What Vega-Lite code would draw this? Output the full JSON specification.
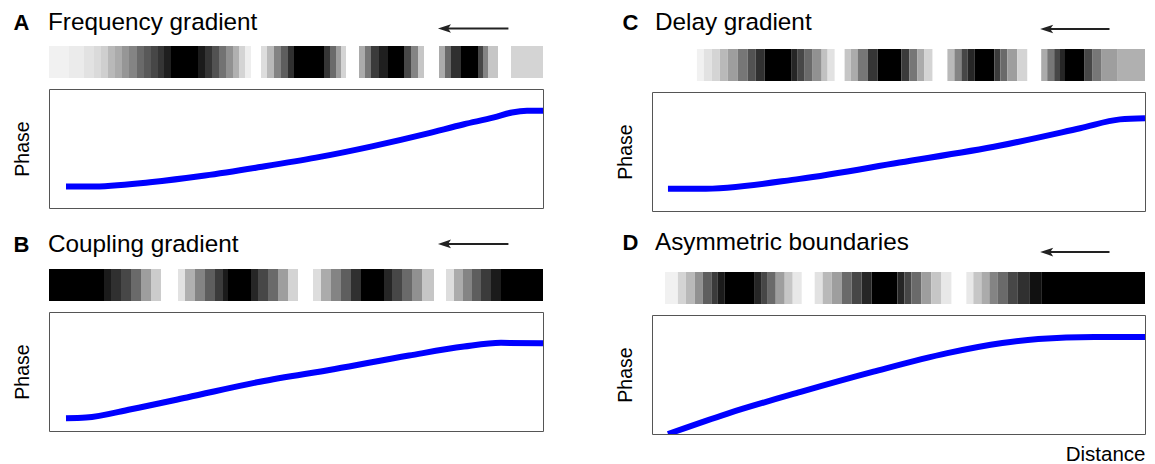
{
  "$schema": "https://vega.github.io/schema/vega-lite/v6.json",
  "padding": {"left": 11, "top": 10, "right": 8, "bottom": 4},
  "background": "white",
  "config": {"view": {"stroke": null}, "font": "Liberation Sans", "axis": {"grid": false}},
  "datasets": {
    "stripA": [
      {"x0":0,"x1":20,"v":0.05},{"x0":20,"x1":35,"v":0.07},{"x0":35,"x1":45,"v":0.1},{"x0":45,"x1":52,"v":0.13},{"x0":52,"x1":59,"v":0.17},{"x0":59,"x1":66,"v":0.25},{"x0":66,"x1":73,"v":0.3},{"x0":73,"x1":80,"v":0.38},{"x0":80,"x1":88,"v":0.45},{"x0":88,"x1":95,"v":0.55},{"x0":95,"x1":102,"v":0.62},{"x0":102,"x1":109,"v":0.7},{"x0":109,"x1":115,"v":0.78},{"x0":115,"x1":122,"v":0.88},{"x0":122,"x1":149,"v":1},{"x0":149,"x1":156,"v":0.9},{"x0":156,"x1":163,"v":0.78},{"x0":163,"x1":170,"v":0.65},{"x0":170,"x1":177,"v":0.52},{"x0":177,"x1":184,"v":0.4},{"x0":184,"x1":190,"v":0.28},{"x0":190,"x1":196,"v":0.15},{"x0":196,"x1":202,"v":0.06},
      {"x0":212,"x1":218,"v":0.12},{"x0":218,"x1":225,"v":0.25},{"x0":225,"x1":232,"v":0.45},{"x0":232,"x1":239,"v":0.6},{"x0":239,"x1":245,"v":0.8},{"x0":245,"x1":275,"v":1},{"x0":275,"x1":281,"v":0.78},{"x0":281,"x1":287,"v":0.55},{"x0":287,"x1":292,"v":0.35},{"x0":292,"x1":297,"v":0.15},
      {"x0":310,"x1":316,"v":0.3},{"x0":316,"x1":322,"v":0.5},{"x0":322,"x1":330,"v":0.75},{"x0":330,"x1":339,"v":0.88},{"x0":339,"x1":355,"v":1},{"x0":355,"x1":362,"v":0.7},{"x0":362,"x1":369,"v":0.45},{"x0":369,"x1":375,"v":0.2},
      {"x0":390,"x1":396,"v":0.3},{"x0":396,"x1":402,"v":0.55},{"x0":402,"x1":412,"v":0.8},{"x0":412,"x1":429,"v":1},{"x0":429,"x1":434,"v":0.7},{"x0":434,"x1":439,"v":0.45},{"x0":439,"x1":449,"v":0.2},
      {"x0":462,"x1":494,"v":0.15}
    ],
    "stripB": [
      {"x0":0,"x1":55,"v":1},{"x0":55,"x1":62,"v":0.9},{"x0":62,"x1":72,"v":0.8},{"x0":72,"x1":82,"v":0.7},{"x0":82,"x1":92,"v":0.55},{"x0":92,"x1":102,"v":0.35},{"x0":102,"x1":112,"v":0.18},
      {"x0":129,"x1":136,"v":0.1},{"x0":136,"x1":146,"v":0.28},{"x0":146,"x1":156,"v":0.45},{"x0":156,"x1":166,"v":0.6},{"x0":166,"x1":174,"v":0.75},{"x0":174,"x1":179,"v":0.9},{"x0":179,"x1":202,"v":1},{"x0":202,"x1":209,"v":0.85},{"x0":209,"x1":219,"v":0.7},{"x0":219,"x1":229,"v":0.55},{"x0":229,"x1":239,"v":0.35},{"x0":239,"x1":249,"v":0.15},
      {"x0":264,"x1":272,"v":0.12},{"x0":272,"x1":282,"v":0.3},{"x0":282,"x1":292,"v":0.45},{"x0":292,"x1":302,"v":0.6},{"x0":302,"x1":312,"v":0.8},{"x0":312,"x1":335,"v":1},{"x0":335,"x1":343,"v":0.85},{"x0":343,"x1":353,"v":0.7},{"x0":353,"x1":363,"v":0.55},{"x0":363,"x1":373,"v":0.4},{"x0":373,"x1":385,"v":0.2},
      {"x0":397,"x1":405,"v":0.12},{"x0":405,"x1":414,"v":0.3},{"x0":414,"x1":423,"v":0.45},{"x0":423,"x1":432,"v":0.6},{"x0":432,"x1":442,"v":0.75},{"x0":442,"x1":452,"v":0.9},{"x0":452,"x1":494,"v":1}
    ],
    "stripC": [
      {"x0":45,"x1":52,"v":0.05},{"x0":52,"x1":60,"v":0.1},{"x0":60,"x1":68,"v":0.15},{"x0":68,"x1":76,"v":0.25},{"x0":76,"x1":86,"v":0.35},{"x0":86,"x1":96,"v":0.5},{"x0":96,"x1":104,"v":0.65},{"x0":104,"x1":113,"v":0.8},{"x0":113,"x1":140,"v":1},{"x0":140,"x1":146,"v":0.85},{"x0":146,"x1":153,"v":0.7},{"x0":153,"x1":161,"v":0.55},{"x0":161,"x1":170,"v":0.4},{"x0":170,"x1":176,"v":0.22},{"x0":176,"x1":183,"v":0.1},
      {"x0":193,"x1":199,"v":0.2},{"x0":199,"x1":206,"v":0.3},{"x0":206,"x1":216,"v":0.5},{"x0":216,"x1":226,"v":0.78},{"x0":226,"x1":250,"v":1},{"x0":250,"x1":258,"v":0.75},{"x0":258,"x1":266,"v":0.5},{"x0":266,"x1":273,"v":0.3},{"x0":273,"x1":281,"v":0.15},
      {"x0":296,"x1":303,"v":0.25},{"x0":303,"x1":310,"v":0.45},{"x0":310,"x1":316,"v":0.7},{"x0":316,"x1":323,"v":0.85},{"x0":323,"x1":343,"v":1},{"x0":343,"x1":349,"v":0.75},{"x0":349,"x1":356,"v":0.55},{"x0":356,"x1":366,"v":0.35},{"x0":366,"x1":376,"v":0.15},
      {"x0":390,"x1":396,"v":0.3},{"x0":396,"x1":403,"v":0.5},{"x0":403,"x1":408,"v":0.7},{"x0":408,"x1":413,"v":0.85},{"x0":413,"x1":433,"v":1},{"x0":433,"x1":441,"v":0.7},{"x0":441,"x1":450,"v":0.5},{"x0":450,"x1":466,"v":0.35},{"x0":466,"x1":494,"v":0.28}
    ],
    "stripD": [
      {"x0":13,"x1":26,"v":0.05},{"x0":26,"x1":34,"v":0.15},{"x0":34,"x1":43,"v":0.25},{"x0":43,"x1":51,"v":0.4},{"x0":51,"x1":60,"v":0.6},{"x0":60,"x1":66,"v":0.75},{"x0":66,"x1":73,"v":0.9},{"x0":73,"x1":103,"v":1},{"x0":103,"x1":110,"v":0.85},{"x0":110,"x1":116,"v":0.7},{"x0":116,"x1":124,"v":0.55},{"x0":124,"x1":133,"v":0.35},{"x0":133,"x1":141,"v":0.2},{"x0":141,"x1":150,"v":0.08},
      {"x0":163,"x1":171,"v":0.1},{"x0":171,"x1":180,"v":0.25},{"x0":180,"x1":190,"v":0.35},{"x0":190,"x1":200,"v":0.55},{"x0":200,"x1":210,"v":0.7},{"x0":210,"x1":220,"v":0.85},{"x0":220,"x1":246,"v":1},{"x0":246,"x1":253,"v":0.85},{"x0":253,"x1":260,"v":0.7},{"x0":260,"x1":270,"v":0.55},{"x0":270,"x1":280,"v":0.35},{"x0":280,"x1":290,"v":0.2},{"x0":290,"x1":300,"v":0.08},
      {"x0":315,"x1":322,"v":0.08},{"x0":322,"x1":330,"v":0.2},{"x0":330,"x1":338,"v":0.3},{"x0":338,"x1":346,"v":0.45},{"x0":346,"x1":356,"v":0.55},{"x0":356,"x1":366,"v":0.7},{"x0":366,"x1":378,"v":0.8},{"x0":378,"x1":390,"v":0.95},{"x0":390,"x1":494,"v":1}
    ],
    "lineA": [
      {"d":17,"phase":0.18},{"d":41,"phase":0.18},{"d":101,"phase":0.217},{"d":156,"phase":0.273},{"d":211,"phase":0.344},{"d":267,"phase":0.423},{"d":323,"phase":0.518},{"d":378,"phase":0.625},{"d":415,"phase":0.704},{"d":445,"phase":0.761},{"d":463,"phase":0.803},{"d":478,"phase":0.817},{"d":494,"phase":0.817}
    ],
    "lineB": [
      {"d":17,"phase":0.107},{"d":37,"phase":0.113},{"d":82,"phase":0.183},{"d":138,"phase":0.282},{"d":211,"phase":0.414},{"d":286,"phase":0.521},{"d":360,"phase":0.634},{"d":415,"phase":0.71},{"d":452,"phase":0.741},{"d":494,"phase":0.738}
    ],
    "lineC": [
      {"d":16,"phase":0.186},{"d":48,"phase":0.186},{"d":148,"phase":0.27},{"d":248,"phase":0.407},{"d":349,"phase":0.55},{"d":429,"phase":0.695},{"d":469,"phase":0.77},{"d":494,"phase":0.78}
    ],
    "lineD": [
      {"d":16,"phase":0.0},{"d":75,"phase":0.17},{"d":149,"phase":0.354},{"d":222,"phase":0.524},{"d":296,"phase":0.68},{"d":351,"phase":0.765},{"d":387,"phase":0.799},{"d":443,"phase":0.816},{"d":494,"phase":0.816}
    ],
    "headA": [{"letter":"A","title":"Frequency gradient"}],
    "headB": [{"letter":"B","title":"Coupling gradient"}],
    "headC": [{"letter":"C","title":"Delay gradient"}],
    "headD": [{"letter":"D","title":"Asymmetric boundaries"}]
  },
  "spacing": 70,
  "hconcat": [
    {
      "spacing": 11,
      "bounds": "flush",
      "vconcat": [
        {
          "width": 494, "height": 24,
          "data": {"name": "headA"},
          "layer": [
            {"mark": {"type":"text","fontWeight":"bold","fontSize":22,"align":"left","baseline":"middle","color":"#000"},
             "encoding": {"x": {"datum": -36, "type":"quantitative","scale":{"domain":[0,494]},"axis":null}, "y": {"datum": 0.5, "type":"quantitative","scale":{"domain":[0,1]},"axis":null}, "text": {"field":"letter"}}},
            {"mark": {"type":"text","fontSize":24.3,"align":"left","baseline":"middle","color":"#000"},
             "encoding": {"x": {"datum": -1, "type":"quantitative"}, "y": {"datum": 0.5, "type":"quantitative"}, "text": {"field":"title"}}},
            {"mark": {"type":"rule","color":"#222","strokeWidth":2},
             "encoding": {"x": {"datum": 402, "type":"quantitative"}, "x2": {"datum": 465}, "y": {"datum": 0.27, "type":"quantitative"}}},
            {"mark": {"type":"point","shape":"M-1,0L0.8,-0.6L0.4,0L0.8,0.6Z","filled":true,"size":210,"color":"#222","opacity":1},
             "encoding": {"x": {"datum": 401, "type":"quantitative"}, "y": {"datum": 0.27, "type":"quantitative"}}}
          ]
        },
        {
          "width": 494, "height": 32,
          "data": {"name": "stripA"},
          "mark": {"type":"rect","strokeWidth":0},
          "encoding": {"x": {"field":"x0","type":"quantitative","scale":{"domain":[0,494]},"axis":null}, "x2": {"field":"x1"}, "color": {"field":"v","type":"quantitative","scale":{"domain":[0,1],"range":["#ffffff","#000000"]},"legend":null}}
        },
        {
          "width": 494, "height": 119,
          "view": {"stroke": "#555", "strokeWidth": 1},
          "data": {"name": "lineA"},
          "mark": {"type":"line","color":"#0000ff","strokeWidth":6,"interpolate":"monotone","clip":true},
          "encoding": {"x": {"field":"d","type":"quantitative","scale":{"domain":[0,494]},"axis":null}, "y": {"field":"phase","type":"quantitative","scale":{"domain":[0,1]},"axis":{"title":"Phase","labels":false,"ticks":false,"domain":false,"grid":false,"titleFontSize":19.5,"titleFontWeight":"normal","titlePadding":17,"titleColor":"#000"}}}
        },
        {
          "width": 494, "height": 39,
          "data": {"name": "headB"},
          "layer": [
            {"mark": {"type":"text","fontWeight":"bold","fontSize":22,"align":"left","baseline":"middle","color":"#000"},
             "encoding": {"x": {"datum": -36, "type":"quantitative","scale":{"domain":[0,494]},"axis":null}, "y": {"datum": 0.333, "type":"quantitative","scale":{"domain":[0,1]},"axis":null}, "text": {"field":"letter"}}},
            {"mark": {"type":"text","fontSize":24.3,"align":"left","baseline":"middle","color":"#000"},
             "encoding": {"x": {"datum": -1, "type":"quantitative"}, "y": {"datum": 0.333, "type":"quantitative"}, "text": {"field":"title"}}},
            {"mark": {"type":"rule","color":"#222","strokeWidth":2},
             "encoding": {"x": {"datum": 402, "type":"quantitative"}, "x2": {"datum": 465}, "y": {"datum": 0.36, "type":"quantitative"}}},
            {"mark": {"type":"point","shape":"M-1,0L0.8,-0.6L0.4,0L0.8,0.6Z","filled":true,"size":210,"color":"#222","opacity":1},
             "encoding": {"x": {"datum": 401, "type":"quantitative"}, "y": {"datum": 0.36, "type":"quantitative"}}}
          ]
        },
        {
          "width": 494, "height": 32,
          "data": {"name": "stripB"},
          "mark": {"type":"rect","strokeWidth":0},
          "encoding": {"x": {"field":"x0","type":"quantitative","scale":{"domain":[0,494]},"axis":null}, "x2": {"field":"x1"}, "color": {"field":"v","type":"quantitative","scale":{"domain":[0,1],"range":["#ffffff","#000000"]},"legend":null}}
        },
        {
          "width": 494, "height": 119,
          "view": {"stroke": "#555", "strokeWidth": 1},
          "data": {"name": "lineB"},
          "mark": {"type":"line","color":"#0000ff","strokeWidth":6,"interpolate":"monotone","clip":true},
          "encoding": {"x": {"field":"d","type":"quantitative","scale":{"domain":[0,494]},"axis":null}, "y": {"field":"phase","type":"quantitative","scale":{"domain":[0,1]},"axis":{"title":"Phase","labels":false,"ticks":false,"domain":false,"grid":false,"titleFontSize":19.5,"titleFontWeight":"normal","titlePadding":17,"titleColor":"#000"}}}
        }
      ]
    },
    {
      "spacing": 11,
      "bounds": "flush",
      "vconcat": [
        {
          "width": 493, "height": 27,
          "data": {"name": "headC"},
          "layer": [
            {"mark": {"type":"text","fontWeight":"bold","fontSize":22,"align":"left","baseline":"middle","color":"#000"},
             "encoding": {"x": {"datum": -30, "type":"quantitative","scale":{"domain":[0,493]},"axis":null}, "y": {"datum": 0.556, "type":"quantitative","scale":{"domain":[0,1]},"axis":null}, "text": {"field":"letter"}}},
            {"mark": {"type":"text","fontSize":24.3,"align":"left","baseline":"middle","color":"#000"},
             "encoding": {"x": {"datum": 3, "type":"quantitative"}, "y": {"datum": 0.556, "type":"quantitative"}, "text": {"field":"title"}}},
            {"mark": {"type":"rule","color":"#222","strokeWidth":2},
             "encoding": {"x": {"datum": 402, "type":"quantitative"}, "x2": {"datum": 464}, "y": {"datum": 0.333, "type":"quantitative"}}},
            {"mark": {"type":"point","shape":"M-1,0L0.8,-0.6L0.4,0L0.8,0.6Z","filled":true,"size":210,"color":"#222","opacity":1},
             "encoding": {"x": {"datum": 401, "type":"quantitative"}, "y": {"datum": 0.333, "type":"quantitative"}}}
          ]
        },
        {
          "width": 493, "height": 32,
          "data": {"name": "stripC"},
          "mark": {"type":"rect","strokeWidth":0},
          "encoding": {"x": {"field":"x0","type":"quantitative","scale":{"domain":[0,494]},"axis":null}, "x2": {"field":"x1"}, "color": {"field":"v","type":"quantitative","scale":{"domain":[0,1],"range":["#ffffff","#000000"]},"legend":null}}
        },
        {
          "width": 493, "height": 119,
          "view": {"stroke": "#555", "strokeWidth": 1},
          "data": {"name": "lineC"},
          "mark": {"type":"line","color":"#0000ff","strokeWidth":6,"interpolate":"monotone","clip":true},
          "encoding": {"x": {"field":"d","type":"quantitative","scale":{"domain":[0,494]},"axis":null}, "y": {"field":"phase","type":"quantitative","scale":{"domain":[0,1]},"axis":{"title":"Phase","labels":false,"ticks":false,"domain":false,"grid":false,"titleFontSize":19.5,"titleFontWeight":"normal","titlePadding":17,"titleColor":"#000"}}}
        },
        {
          "width": 493, "height": 39,
          "data": {"name": "headD"},
          "layer": [
            {"mark": {"type":"text","fontWeight":"bold","fontSize":22,"align":"left","baseline":"middle","color":"#000"},
             "encoding": {"x": {"datum": -30, "type":"quantitative","scale":{"domain":[0,493]},"axis":null}, "y": {"datum": 0.45, "type":"quantitative","scale":{"domain":[0,1]},"axis":null}, "text": {"field":"letter"}}},
            {"mark": {"type":"text","fontSize":24.3,"align":"left","baseline":"middle","color":"#000"},
             "encoding": {"x": {"datum": 3, "type":"quantitative"}, "y": {"datum": 0.45, "type":"quantitative"}, "text": {"field":"title"}}},
            {"mark": {"type":"rule","color":"#222","strokeWidth":2},
             "encoding": {"x": {"datum": 402, "type":"quantitative"}, "x2": {"datum": 464}, "y": {"datum": 0.23, "type":"quantitative"}}},
            {"mark": {"type":"point","shape":"M-1,0L0.8,-0.6L0.4,0L0.8,0.6Z","filled":true,"size":210,"color":"#222","opacity":1},
             "encoding": {"x": {"datum": 401, "type":"quantitative"}, "y": {"datum": 0.23, "type":"quantitative"}}}
          ]
        },
        {
          "width": 493, "height": 32,
          "data": {"name": "stripD"},
          "mark": {"type":"rect","strokeWidth":0},
          "encoding": {"x": {"field":"x0","type":"quantitative","scale":{"domain":[0,494]},"axis":null}, "x2": {"field":"x1"}, "color": {"field":"v","type":"quantitative","scale":{"domain":[0,1],"range":["#ffffff","#000000"]},"legend":null}}
        },
        {
          "width": 493, "height": 119,
          "view": {"stroke": "#555", "strokeWidth": 1},
          "data": {"name": "lineD"},
          "mark": {"type":"line","color":"#0000ff","strokeWidth":6,"interpolate":"monotone","clip":true},
          "encoding": {"x": {"field":"d","type":"quantitative","scale":{"domain":[0,494]},"axis":{"title":"Distance","labels":false,"ticks":false,"domain":false,"grid":false,"titleFontSize":20.5,"titleFontWeight":"normal","titlePadding":10,"titleColor":"#000","titleAnchor":"end"}}, "y": {"field":"phase","type":"quantitative","scale":{"domain":[0,1]},"axis":{"title":"Phase","labels":false,"ticks":false,"domain":false,"grid":false,"titleFontSize":19.5,"titleFontWeight":"normal","titlePadding":17,"titleColor":"#000"}}}
        }
      ]
    }
  ]
}
